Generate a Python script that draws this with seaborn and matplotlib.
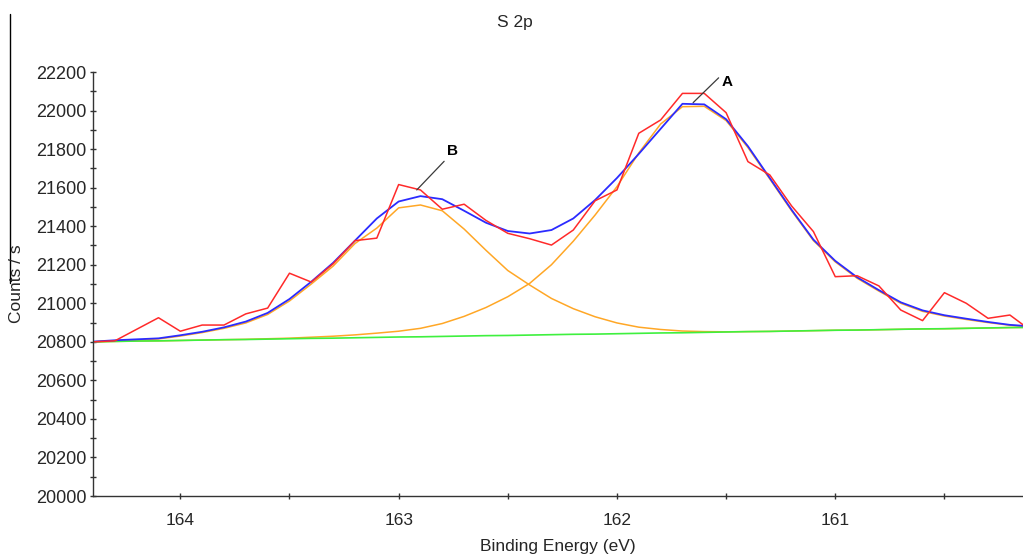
import matplotlib
matplotlib.use("Agg")
import matplotlib.pyplot as plt
from matplotlib.lines import Line2D
from matplotlib.ticker import MultipleLocator, FixedLocator, NullFormatter
import seaborn as sns
import pandas as pd

# ---------------- data ----------------
binding_energy = [164.4, 164.3, 164.2, 164.1, 164.0, 163.9, 163.8, 163.7, 163.6, 163.5,
                  163.4, 163.3, 163.2, 163.1, 163.0, 162.9, 162.8, 162.7, 162.6, 162.5,
                  162.4, 162.3, 162.2, 162.1, 162.0, 161.9, 161.8, 161.7, 161.6, 161.5,
                  161.4, 161.3, 161.2, 161.1, 161.0, 160.9, 160.8, 160.7, 160.6, 160.5,
                  160.4, 160.3, 160.2, 160.1]

raw_counts = [20800, 20805, 20865, 20925, 20855, 20887, 20887, 20945, 20975, 21156,
              21110, 21205, 21325, 21338, 21616, 21588, 21488, 21514, 21430, 21363,
              21335, 21302, 21380, 21532, 21588, 21882, 21951, 22089, 22089, 21989,
              21735, 21666, 21505, 21372, 21138, 21143, 21090, 20965, 20910, 21055,
              21000, 20922, 20939, 20855]

envelope = [20801, 20808, 20813, 20818, 20834, 20852, 20875, 20905, 20950, 21022,
            21112, 21210, 21325, 21440, 21528, 21556, 21540, 21480, 21418, 21375,
            21362, 21380, 21440, 21536, 21650, 21775, 21905, 22035, 22032, 21955,
            21815, 21650, 21485, 21330, 21220, 21135, 21068, 21005, 20963, 20938,
            20920, 20903, 20888, 20880]

component_a = [20800, 20802, 20804, 20805, 20807, 20809, 20811, 20813, 20816, 20819,
               20824, 20829, 20836, 20845, 20855, 20870, 20895, 20932, 20978, 21034,
               21103, 21200, 21322, 21458, 21605, 21780, 21930, 22020, 22022, 21948,
               21808, 21645, 21480, 21325, 21215, 21130, 21063, 21000, 20958, 20934,
               20916, 20900, 20886, 20878]

component_b = [20800, 20804, 20809, 20815, 20830, 20848, 20870, 20898, 20942, 21012,
               21100, 21193, 21310, 21390, 21495, 21510, 21480, 21385, 21275, 21170,
               21095, 21025, 20972, 20930, 20898, 20876, 20864, 20856, 20853, 20852,
               20853, 20854, 20856, 20858, 20860, 20861, 20863, 20865, 20867, 20868,
               20870, 20872, 20874, 20875]

background = [20800, 20802, 20804, 20805, 20807, 20809, 20811, 20812, 20814, 20816,
              20818, 20819, 20821, 20823, 20825, 20826, 20828, 20830, 20832, 20833,
              20835, 20837, 20839, 20840, 20842, 20844, 20846, 20847, 20849, 20851,
              20853, 20854, 20856, 20858, 20860, 20861, 20863, 20865, 20867, 20868,
              20870, 20872, 20874, 20875]

peak_labels = ["A", "B"]
peak_points = [(161.651, 22041), (162.917, 21588)]
label_points = [(161.494, 22150), (162.752, 21790)]
label_relpos = [(0.0, 1.0), (0.0, 0.0)]

x_major = [164, 163, 162, 161]
x_minor = [163.5, 162.5, 161.5, 160.5]

df = pd.DataFrame({
    "be": binding_energy, "raw": raw_counts, "env": envelope,
    "a": component_a, "b": component_b, "bg": background,
})

# ---------------- styling ----------------
sns.set_theme(style="white")
plt.rcParams["font.family"] = ["Liberation Sans", "DejaVu Sans"]
plt.rcParams["font.size"] = 12

fig = plt.figure(figsize=(10.23, 5.56), dpi=100)
ax = fig.add_axes([93 / 1023, 1 - 496 / 556, 1 - 93 / 1023, (496 - 72) / 556])

c_orange = "#ffa726"
c_green = "#3ef03e"
c_blue = "#2b2bff"
c_red = "#ff2a2a"

sns.lineplot(data=df, x="be", y="a", ax=ax, color=c_orange, lw=1.1, sort=False)
sns.lineplot(data=df, x="be", y="b", ax=ax, color=c_orange, lw=1.1, sort=False)
sns.lineplot(data=df, x="be", y="bg", ax=ax, color=c_green, lw=1.2, sort=False)
sns.lineplot(data=df, x="be", y="env", ax=ax, color=c_blue, lw=1.3, sort=False)
sns.lineplot(data=df, x="be", y="raw", ax=ax, color=c_red, lw=1.1, sort=False)

for lab, pt, tp, rp in zip(peak_labels, peak_points, label_points, label_relpos):
    ax.annotate(lab, xy=pt, xytext=tp, ha="center", va="center",
                fontsize=11, fontweight="bold", color="black",
                arrowprops=dict(arrowstyle="-", color="#3a3a3a", lw=0.9,
                                relpos=rp, shrinkA=0, shrinkB=0))

ax.set_xlim(164.4, 160.14)
ax.set_ylim(20000, 22200)

ax.xaxis.set_major_locator(FixedLocator(x_major))
ax.xaxis.set_minor_locator(FixedLocator(x_minor))
ax.xaxis.set_minor_formatter(NullFormatter())
ax.set_xticklabels([str(v) for v in x_major])
ax.yaxis.set_major_locator(MultipleLocator(200))
ax.yaxis.set_minor_locator(MultipleLocator(100))

ax.tick_params(axis="x", which="both", direction="inout", length=4, width=1,
               color="#333333", pad=10, labelsize=12.5, bottom=True)
ax.tick_params(axis="y", which="major", direction="inout", length=5, width=1,
               color="#333333", pad=2, labelsize=13, left=True)
ax.tick_params(axis="y", which="minor", direction="inout", length=4, width=1,
               color="#333333", left=True)

for side in ("top", "right"):
    ax.spines[side].set_visible(False)
for side in ("left", "bottom"):
    ax.spines[side].set_color("#333333")
    ax.spines[side].set_linewidth(1.0)

ax.set_xlabel("Binding Energy (eV)", fontsize=12.5, labelpad=8)
ax.set_ylabel("")
fig.text(17 / 1023, 1 - 284 / 556, "Counts / s", rotation=90, ha="center", va="center",
         fontsize=12.5)

fig.text(515 / 1023, 1 - 22 / 556, "S 2p", ha="center", va="center", fontsize=12.5)

# stray frame line at the left edge of the source image
fig.add_artist(Line2D([10 / 1023, 10 / 1023], [1 - 14 / 556, 1 - 283 / 556],
                      transform=fig.transFigure, color="black", lw=1.0))

ax.set_facecolor("white")
fig.patch.set_facecolor("white")
fig.savefig("out.png", dpi=100, facecolor="white")
